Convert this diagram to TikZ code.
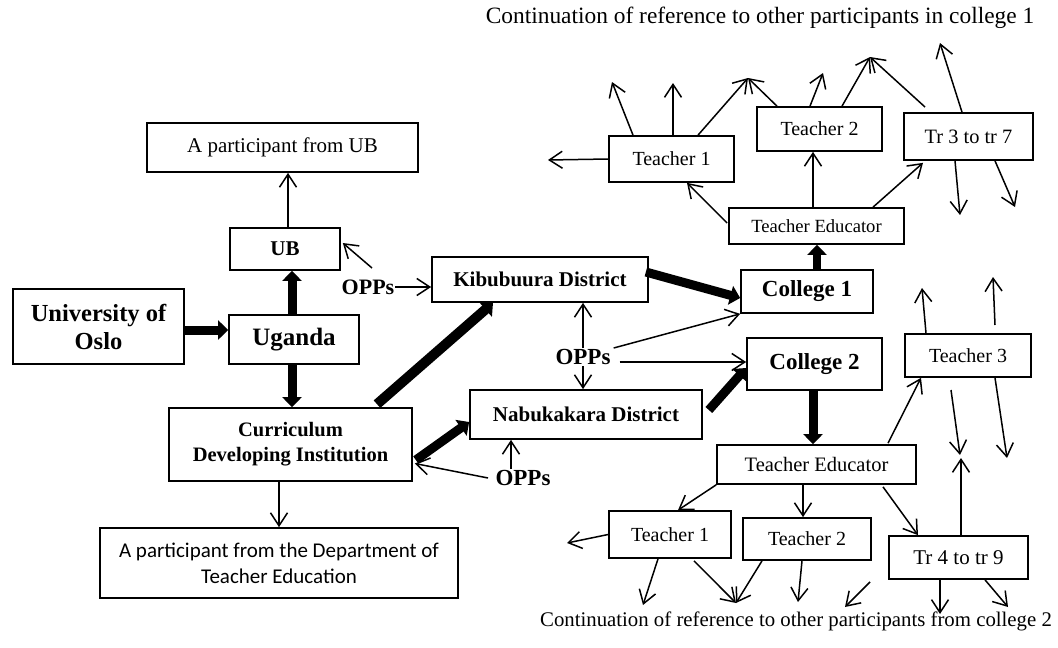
\documentclass[tikz,border=0pt]{standalone}
\usepackage{fontspec}
\setmainfont{Liberation Serif}
\newfontfamily\labelsans{Carlito}
\usetikzlibrary{arrows.meta,calc}

\begin{document}
\begin{tikzpicture}[x=1pt,y=-1pt,
  bx/.style 2 args={draw,line width=1.7pt,inner sep=0pt,
    minimum width=#1,minimum height=#2,align=center},
  fs/.style={font=\fontsize{#1}{#1}\selectfont},
  bfs/.style={font=\bfseries\fontsize{#1}{#1}\selectfont},
  arr/.style={line width=1.5pt,-{Straight Barb[length=13pt,width=17pt]}},
  thk/.style={line width=9pt,-{Triangle[length=10pt,width=19pt]}}]

\useasboundingbox (0,0) rectangle (1058,648);

% captions
\node[fs=23.4] (capT) at (760,18) {Continuation of reference to other participants in college 1};
\node[fs=20.8] (capB) at (796,621) {Continuation of reference to other participants from college 2};

% left part
\node[bx={271}{49},fs=21] (ubp) at (282.5,147.5) {A participant from UB};
\node[bx={110}{42},bfs=21] (ub) at (285,249) {UB};
\node[bx={171}{75},font=\bfseries\fontsize{24.5}{28}\selectfont] (uio) at (98.5,326.5) {University of\\Oslo};
\node[bx={130}{49},bfs=25] (uga) at (294,339.5) {Uganda};
\node[bx={243}{73},font=\bfseries\fontsize{20.5}{25}\selectfont] (cdi) at (290.5,444.5) {Curriculum\\Developing Institution};
\node[bx={358}{70},font=\labelsans\fontsize{21}{26}\selectfont] (dte) at (279,563) {A participant from the Department of\\Teacher Education};

% districts, colleges and OPPs
\node[bx={216}{45},bfs=21] (kib) at (540,279.5) {Kibubuura District};
\node[bx={232}{49},bfs=21] (nab) at (586,414.5) {Nabukakara District};
\node[bx={132}{43},bfs=23] (col1) at (807,291.5) {College 1};
\node[bx={135}{52},bfs=23] (col2) at (814.5,364) {College 2};
\node[bfs=22,inner sep=1pt] (opA) at (368,287) {OPPs};
\node[bfs=23,inner sep=1pt] (opB) at (583,357) {OPPs};
\node[bfs=23,inner sep=1pt] (opC) at (523,478) {OPPs};

% college 1 network
\node[bx={175}{36},fs=18.6] (te1) at (816.5,226) {Teacher Educator};
\node[bx={125}{46},fs=20] (t1a) at (671.5,159) {Teacher 1};
\node[bx={125}{44},fs=20] (t2a) at (819.5,129) {Teacher 2};
\node[bx={129}{47},fs=20.4] (tr37) at (968.5,136.5) {Tr 3 to tr 7};

% college 2 network
\node[bx={199}{39},fs=20.5] (te2) at (816.5,464.5) {Teacher Educator};
\node[bx={122}{47},fs=20] (t1b) at (670,534.5) {Teacher 1};
\node[bx={128}{42},fs=20] (t2b) at (807,539) {Teacher 2};
\node[bx={139}{43},fs=21] (tr49) at (958.5,557.5) {Tr 4 to tr 9};
\node[bx={126}{43},fs=20] (t3) at (968,355.5) {Teacher 3};

% open ends of the reference arrows
\coordinate (p1) at (372,268);
\coordinate (p2) at (488,478);
\coordinate (q1) at (548,160);
\coordinate (q2) at (612,82);
\coordinate (q3) at (673,83);
\coordinate (q4) at (748,78);
\coordinate (q5) at (823,73);
\coordinate (q6) at (870,57);
\coordinate (q7) at (925,107);
\coordinate (q8) at (940,43);
\coordinate (q9) at (960,215);
\coordinate (q10) at (1015,207);
\coordinate (r1) at (922,288);
\coordinate (r2) at (995,325);
\coordinate (r3) at (993,277);
\coordinate (r4) at (951,390);
\coordinate (r5) at (960,455);
\coordinate (r6) at (1007,458);
\coordinate (r7) at (961,458);
\coordinate (s1) at (567,543);
\coordinate (s2) at (643,605);
\coordinate (s3) at (736,603);
\coordinate (s4) at (798,602);
\coordinate (s5) at (870,582);
\coordinate (s6) at (845,607);
\coordinate (s7) at (940,614);
\coordinate (s8) at (1008,607);

% main flow
\draw[thk] ($(uio.east)+(0,3.5)$) -- ($(uga.west)+(0,-9.5)$);
\draw[thk] ($(uga.north)+(-2,0)$) -- ($(ub.south)+(7,0)$);
\draw[thk] ($(uga.south)+(-2,0)$) -- ($(cdi.north)+(1.5,0)$);
\draw[thk,line width=10pt] ($(cdi.north)+(86.5,-3)$) -- ($(kib.south)+(-47,0)$);
\draw[thk] ($(cdi.east)+(3,15.5)$) -- ($(nab.west)+(0,7.5)$);
\draw[thk] ($(kib.east)+(-3,-7.5)$) -- ($(col1.west)+(0,6.5)$);
\draw[thk] ($(nab.east)+(6,-4.5)$) -- ($(col2.west)+(0,4)$);
\draw[thk,line width=8pt] ($(col1.north)+(10,0)$) -- ($(te1.south)+(0.5,0)$);
\draw[thk] ($(col2.south)+(-1.5,0)$) -- ($(te2.north)+(-3.5,0)$);

% participants and OPPs
\draw[arr] ($(ub.north)+(3,0)$) -- ($(ubp.south)+(5.5,0)$);
\draw[arr] (p1) -- ($(ub.east)+(2,-6)$);
\draw[arr] (opA.east) -- (opA.east -| kib.west);
\draw[arr] (dte.north |- cdi.south) -- (dte.north);
\draw[arr] (opB.north) -- (opB.north |- kib.south);
\draw[arr] (opB.south) -- (opB.south |- nab.north);
\draw[arr] ($(opB.east)+(2,-9)$) -- (col1.south west);
\draw[arr] ($(opB.east)+(8,5)$) -- ($(col2.west)+(0,-2)$);
\draw[arr] (p2) -- ($(cdi.east)+(2,19)$);
\draw[arr] ($(opC.north)+(-12,0)$) -- ($(nab.south)+(-75,0)$);

% college 1 references
\draw[arr] ($(te1.west)+(-1,-3)$) -- ($(t1a.south)+(15.5,0)$);
\draw[arr] ($(te1.north)+(-3.5,0)$) -- ($(t2a.south)+(-6.5,0)$);
\draw[arr] ($(te1.north)+(56.5,0)$) -- ($(tr37.south)+(-45.5,2)$);
\draw[arr] (t1a.west) -- (q1);
\draw[arr] ($(t1a.north)+(-38.5,0)$) -- (q2);
\draw[arr] ($(t1a.north)+(1.5,0)$) -- (q3);
\draw[arr] ($(t1a.north)+(26.5,0)$) -- (q4);
\draw[arr] ($(t2a.north)+(-42.5,0)$) -- (q4);
\draw[arr] ($(t2a.north)+(-9.5,0)$) -- (q5);
\draw[arr] ($(t2a.north)+(22.5,0)$) -- (q6);
\draw[arr] (q7) -- (q6);
\draw[arr] ($(tr37.north)+(-6.5,0)$) -- (q8);
\draw[arr] ($(tr37.south)+(-13.5,0)$) -- (q9);
\draw[arr] ($(tr37.south)+(26.5,0)$) -- (q10);

% college 2 references
\draw[arr] ($(te2.north)+(71.5,-1)$) -- ($(t3.south)+(-47,0)$);
\draw[arr] ($(t3.north)+(-42,0)$) -- (r1);
\draw[arr] (r2) -- (r3);
\draw[arr] (r4) -- (r5);
\draw[arr] ($(t3.south)+(27,0)$) -- (r6);
\draw[arr] ($(tr49.north)+(2.5,0)$) -- (r7);
\draw[arr] (te2.south west) -- ($(t1b.north)+(8,0)$);
\draw[arr] ($(te2.south)+(-13.5,0)$) -- ($(t2b.north)+(-4,0)$);
\draw[arr] ($(te2.south)+(66.5,2)$) -- ($(tr49.north)+(-40.5,0)$);
\draw[arr] (t1b.west) -- (s1);
\draw[arr] ($(t1b.south)+(-12,0)$) -- (s2);
\draw[arr] ($(t1b.south)+(24,2)$) -- (s3);
\draw[arr] ($(t2b.south)+(-45,0)$) -- (s3);
\draw[arr] ($(t2b.south)+(-5,0)$) -- (s4);
\draw[arr] (s5) -- (s6);
\draw[arr] ($(tr49.south)+(-18.5,0)$) -- (s7);
\draw[arr] ($(tr49.south)+(26.5,0)$) -- (s8);
\end{tikzpicture}
\end{document}
